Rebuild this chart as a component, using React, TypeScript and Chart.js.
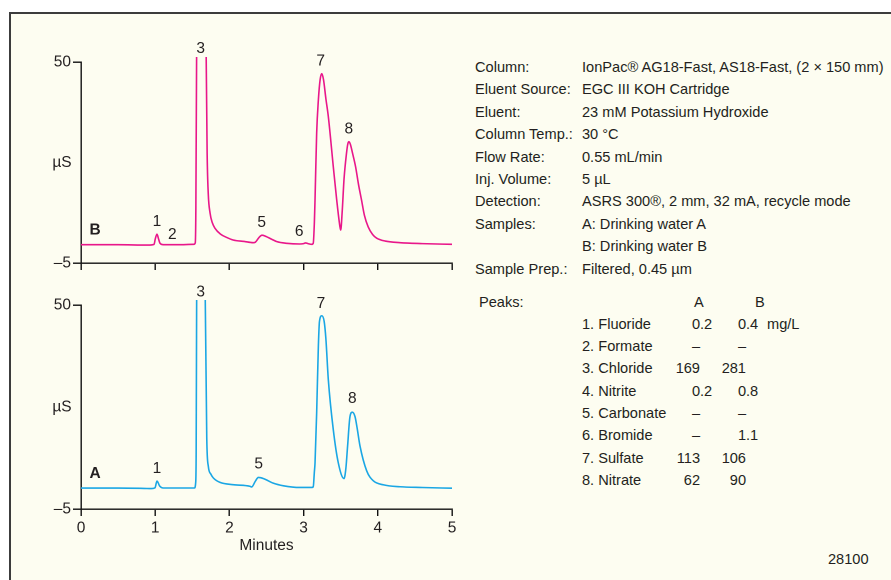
import React, { useEffect, useRef } from "react";
import { Chart, registerables } from "chart.js";

Chart.register(...registerables);

const FONT = '"Liberation Sans", Arial, sans-serif';
const INK = "#231f20";
const CHART_FONT_SIZE = 15.5;

// ---------- data ----------
const xTickValues = [0, 1, 2, 3, 4, 5];
const yTickValues = [-5, 50];
const yTickLabels = ["\u20135", "50"];

// Trace B (Drinking water B) – time in minutes, conductivity in µS
const timeB = [
  0, 0.5, 0.9, 0.985, 1.0, 1.024, 1.045, 1.065, 1.11, 1.3, 1.52, 1.54, 1.548,
  1.56, 1.61, 1.66, 1.683, 1.7, 1.715, 1.74, 1.77, 1.806, 1.88, 1.963, 2.05,
  2.2, 2.32, 2.35, 2.4, 2.44, 2.5, 2.57, 2.64, 2.77, 2.95, 3.0, 3.025, 3.06,
  3.11, 3.13, 3.145, 3.154, 3.176, 3.199, 3.223, 3.245, 3.268, 3.3, 3.333, 3.4,
  3.446, 3.49, 3.5, 3.52, 3.545, 3.578, 3.595, 3.61, 3.63, 3.66, 3.7, 3.74,
  3.78, 3.82, 3.87, 3.93, 3.985, 4.1, 4.3, 4.6, 5,
];
const valueB = [
  0, 0, -0.1, 0.1, 1.5, 2.9, 1.6, 0.4, 0, 0, 0.1, 0.5, 10, 60, 160, 160, 60,
  25, 14, 8.6, 6, 4.5, 2.9, 2.0, 1.3, 0.9, 0.56, 0.7, 2.0, 2.6, 2.2, 1.5, 0.84,
  0.39, 0.2, 0.3, 0.5, 0.3, 0.1, 0.4, 6, 12.3, 30.5, 39.6, 45.2, 46.8, 45.2, 40,
  35.1, 21.4, 12.3, 4.9, 4.0, 9, 18, 25, 27.5, 28.2, 27.5, 25, 21.4, 16.5, 12.3,
  8, 4.9, 2.8, 1.8, 1.0, 0.56, 0.3, 0.1,
];

// Trace A (Drinking water A)
const timeA = [
  0, 0.5, 0.85, 0.95, 0.997, 1.024, 1.06, 1.11, 1.3, 1.53, 1.545, 1.552, 1.56,
  1.61, 1.65, 1.67, 1.695, 1.716, 1.75, 1.784, 1.874, 2.05, 2.28, 2.3, 2.35,
  2.39, 2.46, 2.59, 2.73, 2.95, 3.11, 3.13, 3.145, 3.154, 3.176, 3.199, 3.214,
  3.245, 3.277, 3.3, 3.333, 3.4, 3.468, 3.545, 3.57, 3.593, 3.625, 3.657, 3.693,
  3.72, 3.76, 3.85, 3.94, 4.08, 4.3, 4.6, 5,
];
const valueA = [
  0.65, 0.65, 0.55, 0.5, 0.7, 2.55, 1.2, 0.66, 0.66, 0.66, 2, 10, 60, 160, 160,
  60, 14, 6.5, 4.4, 3.36, 2.17, 1.55, 1.1, 0.93, 2.5, 3.5, 3.2, 1.98, 1.26, 0.8,
  0.8, 1.0, 5, 7.4, 20.9, 38.9, 45.6, 47.1, 45.6, 41, 29.9, 16.4, 7.4, 3.2, 6,
  12, 19.9, 21.1, 19.9, 17, 12, 5.3, 2.6, 1.5, 1.0, 0.8, 0.6,
];

// Peak labels (name, retention time, label height in µS)
const peakNamesB = ["1", "2", "3", "5", "6", "7", "8"];
const peakTimesB = [1.024, 1.23, 1.613, 2.435, 2.94, 3.23, 3.61];
const peakLevelsB = [6.3, 2.7, 53.6, 6.0, 3.6, 50.2, 31.6];

const peakNamesA = ["1", "3", "5", "7", "8"];
const peakTimesA = [1.024, 1.613, 2.395, 3.234, 3.657];
const peakLevelsA = [5.9, 53.4, 7.1, 50.3, 24.7];

// Conditions text
const conditionLabels = [
  "Column:",
  "Eluent Source:",
  "Eluent:",
  "Column Temp.:",
  "Flow Rate:",
  "Inj. Volume:",
  "Detection:",
  "Samples:",
  "",
  "Sample Prep.:",
];
const conditionValues = [
  "IonPac\u00ae AG18-Fast, AS18-Fast, (2 \u00d7 150 mm)",
  "EGC III KOH Cartridge",
  "23 mM Potassium Hydroxide",
  "30 \u00b0C",
  "0.55 mL/min",
  "5 \u00b5L",
  "ASRS 300\u00ae, 2 mm, 32 mA, recycle mode",
  "A: Drinking water A",
  "B: Drinking water B",
  "Filtered, 0.45 \u00b5m",
];

const peakNames = [
  "1. Fluoride",
  "2. Formate",
  "3. Chloride",
  "4. Nitrite",
  "5. Carbonate",
  "6. Bromide",
  "7. Sulfate",
  "8. Nitrate",
];
const amountsA = ["0.2", "\u2013", "169", "0.2", "\u2013", "\u2013", "113", "62"];
const amountsB = ["0.4", "\u2013", "281", "0.8", "\u2013", "1.1", "106", "90"];

// ---------- chart ----------
type TraceProps = {
  top: number;
  height: number;
  padTop: number;
  xAxisHeight: number;
  times: number[];
  values: number[];
  color: string;
  names: string[];
  nameTimes: number[];
  nameLevels: number[];
  sample: string;
  sampleTime: number;
  sampleLevel: number;
  showXLabels: boolean;
};

const W = 470;

function Trace(p: TraceProps) {
  const ref = useRef<HTMLCanvasElement | null>(null);
  useEffect(() => {
    if (!ref.current) return;
    const labelPlugin = {
      id: "peakLabels",
      afterDatasetsDraw(chart: any) {
        const ctx = chart.ctx;
        const xs = chart.scales.x;
        const ys = chart.scales.y;
        ctx.save();
        ctx.fillStyle = INK;
        ctx.textAlign = "center";
        ctx.textBaseline = "middle";
        ctx.font = `${CHART_FONT_SIZE}px ${FONT}`;
        p.names.forEach((n, i) => {
          ctx.fillText(n, xs.getPixelForValue(p.nameTimes[i]), ys.getPixelForValue(p.nameLevels[i]));
        });
        ctx.font = `bold ${CHART_FONT_SIZE}px ${FONT}`;
        ctx.fillText(p.sample, xs.getPixelForValue(p.sampleTime), ys.getPixelForValue(p.sampleLevel));
        ctx.font = `${CHART_FONT_SIZE}px ${FONT}`;
        const ca = chart.chartArea;
        ctx.fillText("\u00b5S", ca.left - 19, (ca.top + ca.bottom) / 2);
        ctx.restore();
      },
    };
    const chart = new Chart(ref.current, {
      type: "line",
      data: {
        datasets: [
          {
            data: p.times.map((t, i) => ({ x: t, y: p.values[i] })),
            borderColor: p.color,
            borderWidth: 1.6,
            pointRadius: 0,
            fill: false,
            cubicInterpolationMode: "monotone",
            clip: { left: 0, top: 5, right: 0, bottom: 0 } as any,
          },
        ],
      },
      options: {
        animation: false,
        responsive: false,
        devicePixelRatio: 2,
        layout: { padding: { top: p.padTop, right: W - 452, left: 0, bottom: 0 } },
        plugins: { legend: { display: false }, tooltip: { enabled: false } },
        scales: {
          x: {
            type: "linear",
            min: 0,
            max: 5,
            afterBuildTicks: (s: any) => {
              s.ticks = xTickValues.map((v) => ({ value: v }));
            },
            afterFit: (s: any) => {
              s.height = p.xAxisHeight;
            },
            border: { display: true, color: "#111", width: 1.4 },
            grid: { display: true, drawOnChartArea: false, drawTicks: true, tickLength: 7, color: "#111", lineWidth: 1.4 },
            ticks: {
              display: p.showXLabels,
              padding: 3,
              color: INK,
              font: { family: FONT, size: CHART_FONT_SIZE },
              maxRotation: 0,
              callback: (v: any) => String(v),
            },
            title: {
              display: p.showXLabels,
              text: "Minutes",
              color: INK,
              font: { family: FONT, size: CHART_FONT_SIZE },
              padding: { top: 0, bottom: 25 },
            },
          },
          y: {
            type: "linear",
            min: -5,
            max: 50,
            afterBuildTicks: (s: any) => {
              s.ticks = yTickValues.map((v) => ({ value: v }));
            },
            afterFit: (s: any) => {
              s.width = 81;
            },
            border: { display: true, color: "#111", width: 1.4 },
            grid: { display: true, drawOnChartArea: false, drawTicks: true, tickLength: 8, color: "#111", lineWidth: 1.4 },
            ticks: {
              padding: 2,
              color: INK,
              font: { family: FONT, size: CHART_FONT_SIZE },
              callback: (v: any) => yTickLabels[yTickValues.indexOf(Number(v))],
            },
          },
        },
      },
      plugins: [labelPlugin],
    } as any);
    return () => chart.destroy();
  }, []);
  return (
    <canvas
      ref={ref}
      width={W}
      height={p.height}
      style={{ position: "absolute", left: 0, top: p.top, width: W, height: p.height }}
    />
  );
}

const textStyle: React.CSSProperties = {
  position: "absolute",
  whiteSpace: "nowrap",
  lineHeight: "20px",
};

function amountParts(text: string) {
  const dot = text.indexOf(".");
  return dot >= 0 ? [text.slice(0, dot), text.slice(dot)] : [text, ""];
}

export default function App() {
  useEffect(() => {
    document.body.style.margin = "0";
  }, []);
  const rowH = 22.4;
  const peakRow = 22.35;
  const amountCols: [string[], number][] = [
    [amountsA, 700],
    [amountsB, 746],
  ];
  return (
    <div
      style={{
        position: "fixed",
        left: 0,
        top: 0,
        width: 891,
        height: 580,
        background: "#ffffff",
        overflow: "hidden",
        fontFamily: FONT,
        fontSize: 14.6,
        color: INK,
      }}
    >
      <div
        style={{
          position: "absolute",
          left: 9,
          top: 12,
          width: 900,
          height: 600,
          background: "#fdfdf1",
          borderTop: "2px solid #3c3c3c",
          borderLeft: "2px solid #3c3c3c",
        }}
      />
      <Trace
        top={36}
        height={244}
        padTop={26}
        xAxisHeight={17}
        times={timeB}
        values={valueB}
        color="#e8178a"
        names={peakNamesB}
        nameTimes={peakTimesB}
        nameLevels={peakLevelsB}
        sample="B"
        sampleTime={0.19}
        sampleLevel={4.0}
        showXLabels={false}
      />
      <Trace
        top={280}
        height={300}
        padTop={25}
        xAxisHeight={71}
        times={timeA}
        values={valueA}
        color="#1aa6e4"
        names={peakNamesA}
        nameTimes={peakTimesA}
        nameLevels={peakLevelsA}
        sample="A"
        sampleTime={0.19}
        sampleLevel={4.5}
        showXLabels={true}
      />
      {conditionLabels.map((l, i) => (
        <div key={"cl" + i} style={{ ...textStyle, left: 475, top: 57 + i * rowH }}>
          {l}
        </div>
      ))}
      {conditionValues.map((v, i) => (
        <div key={"cv" + i} style={{ ...textStyle, left: 582, top: 57 + i * rowH }}>
          {v}
        </div>
      ))}
      <div style={{ ...textStyle, left: 479, top: 292 }}>Peaks:</div>
      <div style={{ ...textStyle, left: 694, top: 292 }}>A</div>
      <div style={{ ...textStyle, left: 755, top: 292 }}>B</div>
      {peakNames.map((n, i) => (
        <div key={"pn" + i} style={{ ...textStyle, left: 582, top: 313.5 + i * peakRow }}>
          {n}
        </div>
      ))}
      {amountCols.map(([col, anchor], c) =>
        col.map((a, i) => {
          const [ip, fp] = amountParts(a);
          const top = 313.5 + i * peakRow;
          return (
            <React.Fragment key={"am" + c + "-" + i}>
              <div style={{ ...textStyle, right: 891 - anchor, top }}>{ip}</div>
              {fp && <div style={{ ...textStyle, left: anchor, top }}>{fp}</div>}
            </React.Fragment>
          );
        })
      )}
      <div style={{ ...textStyle, left: 767, top: 313.5 }}>mg/L</div>
      <div style={{ ...textStyle, left: 828, top: 549 }}>28100</div>
    </div>
  );
}
